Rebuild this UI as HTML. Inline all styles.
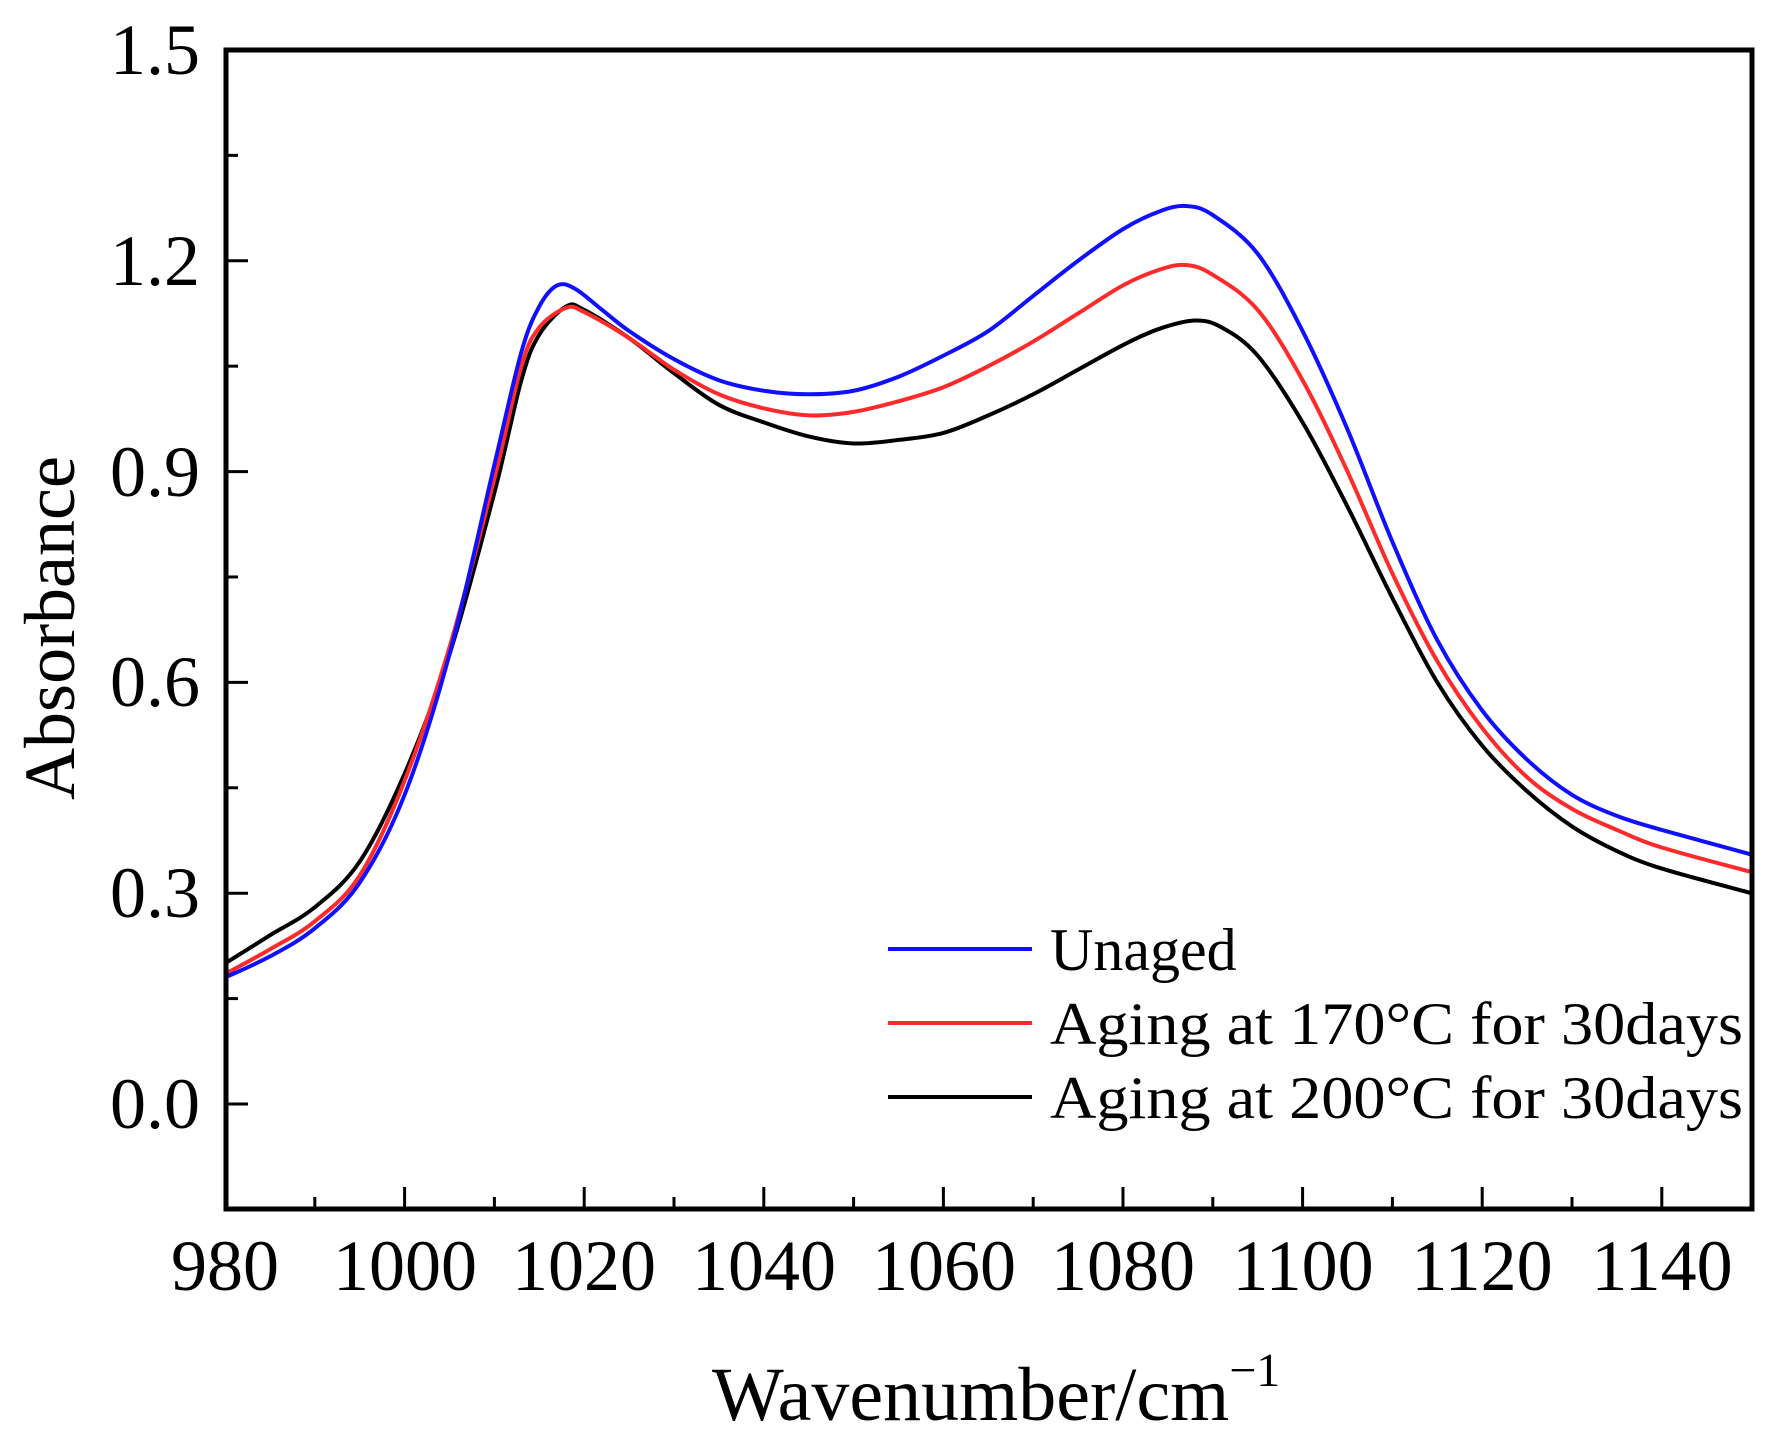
<!DOCTYPE html>
<html><head><meta charset="utf-8"><style>
html,body{margin:0;padding:0;background:#fff;}
svg{display:block;}
text{font-family:"Liberation Serif","Times New Roman",serif;fill:#000;}
</style></head><body>
<svg id="s" width="1780" height="1434" viewBox="0 0 1780 1434" xmlns="http://www.w3.org/2000/svg">
<g id="ticks" stroke="#000" stroke-width="3"></g>
<g id="curves" fill="none" stroke-width="4" stroke-linejoin="round"></g>
<rect x="226" y="50" width="1526" height="1159" fill="none" stroke="#000" stroke-width="5"/>
<g font-size="72" text-anchor="end">
<text x="200" y="1128">0.0</text>
<text x="200" y="917">0.3</text>
<text x="200" y="706">0.6</text>
<text x="200" y="496">0.9</text>
<text x="200" y="285">1.2</text>
<text x="200" y="74">1.5</text>
</g>
<g font-size="72" text-anchor="middle">
<text x="225" y="1290">980</text>
<text x="405" y="1290">1000</text>
<text x="584" y="1290">1020</text>
<text x="764" y="1290">1040</text>
<text x="944" y="1290">1060</text>
<text x="1123" y="1290">1080</text>
<text x="1303" y="1290">1100</text>
<text x="1482" y="1290">1120</text>
<text x="1662" y="1290">1140</text>
</g>
<text x="712" y="1420" font-size="76">Wavenumber/cm<tspan font-size="48" dy="-34">−1</tspan></text>
<text transform="translate(74,628) rotate(-90)" font-size="72" text-anchor="middle">Absorbance</text>
<g stroke-width="4">
<line x1="888" y1="949" x2="1032" y2="949" stroke="#1010ff"/>
<line x1="888" y1="1023" x2="1032" y2="1023" stroke="#ff2a2a"/>
<line x1="888" y1="1097" x2="1032" y2="1097" stroke="#000"/>
</g>
<g font-size="60">
<text x="1050" y="970">Unaged</text>
<text x="1050" y="1044" textLength="693" lengthAdjust="spacingAndGlyphs">Aging at 170°C for 30days</text>
<text x="1050" y="1118" textLength="693" lengthAdjust="spacingAndGlyphs">Aging at 200°C for 30days</text>
</g>
</svg>
<script>
var X=function(w){return 225+(w-980)*8.98;},Y=function(v){return 1104-v*702.7;};
var t=document.getElementById('ticks'),h='';
for(var w=980;w<=1150;w+=10){var x=X(w),L=(w%20==0)?22:12;h+='<line x1="'+x+'" y1="1209" x2="'+x+'" y2="'+(1209-L)+'"/>';}
for(var i=-1;i<=10;i++){var v=i*0.15,y=Y(v),L=(i%2==0)?22:12;h+='<line x1="226" y1="'+y+'" x2="'+(226+L)+'" y2="'+y+'"/>';}
t.innerHTML=h;
var B=[[980,.18],[985,.21],[990,.25],[995,.315],[1000,.44],[1005,.64],[1010,.91],[1013,1.07],[1015,1.135],[1017,1.165],[1019,1.16],[1022,1.13],[1025,1.10],[1030,1.06],[1035,1.03],[1040,1.015],[1045,1.01],[1050,1.015],[1055,1.035],[1060,1.065],[1065,1.10],[1070,1.15],[1075,1.20],[1080,1.245],[1084,1.27],[1087,1.278],[1090,1.265],[1095,1.21],[1100,1.10],[1105,.96],[1110,.80],[1115,.66],[1120,.56],[1125,.49],[1130,.44],[1135,.41],[1140,.39],[1150,.355]];
var R=[[980,.185],[985,.22],[990,.26],[995,.325],[1000,.46],[1005,.65],[1010,.89],[1013,1.05],[1015,1.105],[1018,1.133],[1020,1.127],[1025,1.09],[1030,1.045],[1035,1.01],[1040,.99],[1045,.98],[1050,.985],[1055,1.0],[1060,1.02],[1065,1.05],[1070,1.085],[1075,1.125],[1080,1.165],[1084,1.187],[1087,1.194],[1090,1.18],[1095,1.13],[1100,1.03],[1105,.90],[1110,.755],[1115,.63],[1120,.535],[1125,.465],[1130,.42],[1135,.39],[1140,.365],[1150,.33]];
var K=[[980,.2],[985,.24],[990,.28],[995,.345],[1000,.47],[1005,.64],[1010,.87],[1013,1.03],[1015,1.095],[1018,1.135],[1020,1.13],[1025,1.09],[1030,1.04],[1035,.995],[1040,.97],[1045,.95],[1050,.94],[1055,.945],[1060,.955],[1065,.98],[1070,1.01],[1075,1.045],[1080,1.08],[1084,1.103],[1088,1.115],[1091,1.105],[1095,1.065],[1100,.97],[1105,.85],[1110,.72],[1115,.60],[1120,.51],[1125,.445],[1130,.395],[1135,.36],[1140,.335],[1150,.30]];
function path(d){var p=d.map(function(a){return[X(a[0]),Y(a[1])];}),s='M'+p[0][0]+','+p[0][1];
for(var i=0;i<p.length-1;i++){var p0=p[i-1]||p[i],p1=p[i],p2=p[i+1],p3=p[i+2]||p2;
s+=' C'+(p1[0]+(p2[0]-p0[0])/6)+','+(p1[1]+(p2[1]-p0[1])/6)+' '+(p2[0]-(p3[0]-p1[0])/6)+','+(p2[1]-(p3[1]-p1[1])/6)+' '+p2[0]+','+p2[1];}return s;}
document.getElementById('curves').innerHTML='<path d="'+path(K)+'" stroke="#000"/><path d="'+path(R)+'" stroke="#ff2a2a"/><path d="'+path(B)+'" stroke="#1010ff"/>';
</script>
</body></html>
